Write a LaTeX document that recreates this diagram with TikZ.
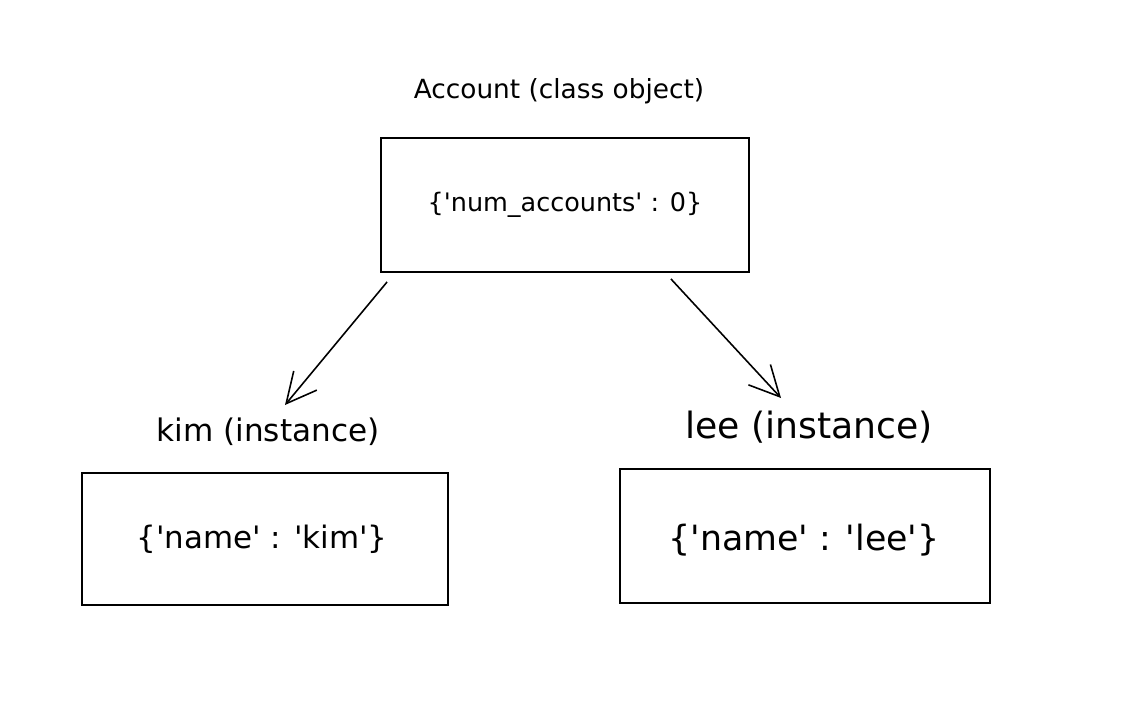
\documentclass[tikz,border=0pt]{standalone}
\usepackage{fontspec}
\setmainfont{DejaVu Sans}[Ligatures=TeXOff]
\usetikzlibrary{arrows.meta,positioning}
\tikzset{
  objbox/.style={rectangle,draw=black,line width=1.1pt,inner sep=0pt,
                 minimum width=#1,minimum height=2.68cm},
  lbl/.style={inner sep=0pt,font=\fontsize{#1}{#1}\selectfont},
  arr/.style={-{Straight Barb[length=6mm,width=6mm]},line width=0.9pt},
}

\begin{document}
\begin{tikzpicture}[x=0.02cm,y=-0.02cm]

  \useasboundingbox[fill=white] (0,0) rectangle (1136,713);

  % class object
  \node[lbl=15] (acclbl) at (559,91) {Account (class object)};
  \node[objbox=7.36cm] (topbox) at (565,205) {};
  \node[lbl=14.5] (toptxt) at (565,205) {\{'num\_accounts' : 0\}};

  % instances
  \node[lbl=17.7] (kimlbl) at (268,432) {kim (instance)};
  \node[objbox=7.32cm,minimum height=2.64cm] (kimbox) at (265,539) {};
  \node[lbl=17.6] (kimtxt) at (262,539) {\{'name' : 'kim'\}};

  \node[lbl=20.6] (leelbl) at (809,427) {lee (instance)};
  \node[objbox=7.40cm] (leebox) at (805,536) {};
  \node[lbl=19.8] (leetxt) at (804,540) {\{'name' : 'lee'\}};

  \coordinate (kimtip) at (285,405);
  \coordinate (leetip) at (781,398);
  \draw[arr] ([shift={(7,9)}]topbox.south west) -- (kimtip);
  \draw[arr] ([shift={(-79,6)}]topbox.south east) -- (leetip);

\end{tikzpicture}
\end{document}
